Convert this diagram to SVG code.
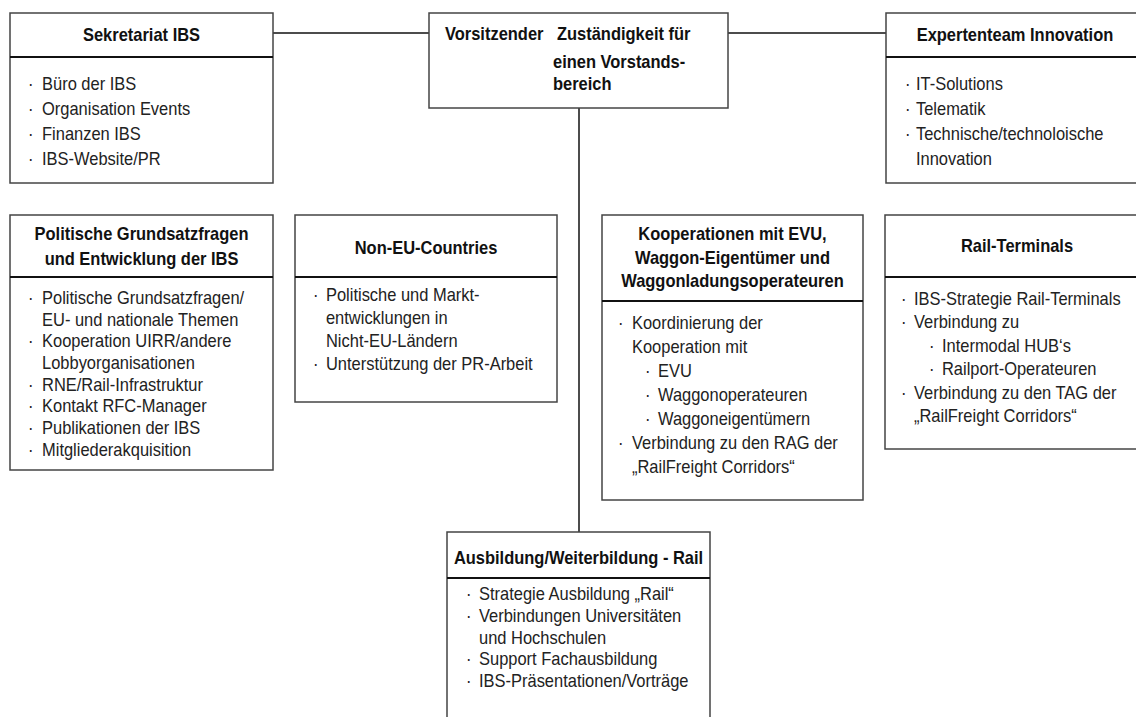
<svg xmlns="http://www.w3.org/2000/svg" width="1136" height="717" viewBox="0 0 1136 717">
<style>
.box{fill:#fff;stroke:#444;stroke-width:1.5}
.div{stroke:#111;stroke-width:2}
.side{stroke:#444;stroke-width:1.5;fill:none}
.con{stroke:#111;stroke-width:1.5;fill:none}
text{font-family:"Liberation Sans",Arial,sans-serif;font-size:18.5px;fill:#222}
.t{font-weight:bold;fill:#111;text-anchor:middle}
.tb{font-weight:bold;fill:#111}
</style>
<rect width="1136" height="717" fill="#fff"/>
<g id="connectors">
<line class="con" x1="273" y1="33" x2="429" y2="33"/>
<line class="con" x1="728" y1="33" x2="886" y2="33"/>
<line class="con" x1="579" y1="108" x2="579" y2="532"/>
</g>
<g id="sekretariat">
<rect class="box" x="10" y="13" width="263" height="170"/>
<line class="div" x1="10" y1="57" x2="273" y2="57"/>
<g transform="translate(10 0) scale(0.89 1)">
<text class="t" x="147.8" y="41">Sekretariat IBS</text>
<text x="20.2" y="90">·</text><text x="36" y="90">Büro der IBS</text>
<text x="20.2" y="115">·</text><text x="36" y="115">Organisation Events</text>
<text x="20.2" y="140">·</text><text x="36" y="140">Finanzen IBS</text>
<text x="20.2" y="165">·</text><text x="36" y="165">IBS-Website/PR</text>
</g>
</g>
<g id="vorsitzender">
<rect class="box" x="429" y="13" width="299" height="95"/>
<g transform="translate(429 0) scale(0.89 1)">
<text class="tb" x="18" y="40">Vorsitzender</text>
<text class="tb" x="143.8" y="40">Zuständigkeit für</text>
<text class="tb" x="139.3" y="68">einen Vorstands-</text>
<text class="tb" x="139.3" y="90">bereich</text>
</g>
</g>
<g id="expertenteam">
<rect class="box" x="886" y="13" width="260" height="170"/>
<line class="div" x1="886" y1="57" x2="1140" y2="57"/>
<g transform="translate(886 0) scale(0.89 1)">
<text class="t" x="144.9" y="41">Expertenteam Innovation</text>
<text x="21.3" y="90">·</text><text x="33.7" y="90">IT-Solutions</text>
<text x="21.3" y="115">·</text><text x="33.7" y="115">Telematik</text>
<text x="21.3" y="140">·</text><text x="33.7" y="140">Technische/technoloische</text>
<text x="33.7" y="165">Innovation</text>
</g>
</g>
<g id="politische">
<rect class="box" x="10" y="215" width="263" height="255"/>
<line class="div" x1="10" y1="277" x2="273" y2="277"/>
<g transform="translate(10 0) scale(0.89 1)">
<text class="t" x="147.8" y="240">Politische Grundsatzfragen</text>
<text class="t" x="147.8" y="265">und Entwicklung der IBS</text>
<text x="20.2" y="304">·</text><text x="36" y="304">Politische Grundsatzfragen/</text>
<text x="36" y="325.7">EU- und nationale Themen</text>
<text x="20.2" y="347.4">·</text><text x="36" y="347.4">Kooperation UIRR/andere</text>
<text x="36" y="369">Lobbyorganisationen</text>
<text x="20.2" y="390.8">·</text><text x="36" y="390.8">RNE/Rail-Infrastruktur</text>
<text x="20.2" y="412.5">·</text><text x="36" y="412.5">Kontakt RFC-Manager</text>
<text x="20.2" y="434">·</text><text x="36" y="434">Publikationen der IBS</text>
<text x="20.2" y="456">·</text><text x="36" y="456">Mitgliederakquisition</text>
</g>
</g>
<g id="noneu">
<rect class="box" x="295" y="215" width="262" height="187"/>
<line class="div" x1="295" y1="277" x2="557" y2="277"/>
<g transform="translate(295 0) scale(0.89 1)">
<text class="t" x="147.2" y="254">Non-EU-Countries</text>
<text x="20.2" y="301">·</text><text x="34.8" y="301">Politische und Markt-</text>
<text x="34.8" y="324">entwicklungen in</text>
<text x="34.8" y="347">Nicht-EU-Ländern</text>
<text x="20.2" y="370">·</text><text x="34.8" y="370">Unterstützung der PR-Arbeit</text>
</g>
</g>
<g id="kooperationen">
<rect class="box" x="602" y="215" width="261" height="285"/>
<line class="div" x1="602" y1="301" x2="863" y2="301"/>
<g transform="translate(602 0) scale(0.89 1)">
<text class="t" x="146.6" y="240">Kooperationen mit EVU,</text>
<text class="t" x="146.6" y="264">Waggon-Eigentümer und</text>
<text class="t" x="146.6" y="287">Waggonladungsoperateuren</text>
<text x="18" y="329">·</text><text x="33.7" y="329">Koordinierung der</text>
<text x="33.7" y="353">Kooperation mit</text>
<text x="48.3" y="377">·</text><text x="62.9" y="377">EVU</text>
<text x="48.3" y="401">·</text><text x="62.9" y="401">Waggonoperateuren</text>
<text x="48.3" y="425">·</text><text x="62.9" y="425">Waggoneigentümern</text>
<text x="18" y="449">·</text><text x="33.7" y="449">Verbindung zu den RAG der</text>
<text x="33.7" y="473">„RailFreight Corridors“</text>
</g>
</g>
<g id="railterminals">
<rect class="box" x="885" y="215" width="260" height="234"/>
<line class="div" x1="885" y1="277" x2="1140" y2="277"/>
<g transform="translate(885 0) scale(0.89 1)">
<text class="t" x="148.3" y="252">Rail-Terminals</text>
<text x="18" y="305">·</text><text x="32.6" y="305">IBS-Strategie Rail-Terminals</text>
<text x="18" y="328.5">·</text><text x="32.6" y="328.5">Verbindung zu</text>
<text x="49.4" y="352">·</text><text x="64" y="352">Intermodal HUB‘s</text>
<text x="49.4" y="375.5">·</text><text x="64" y="375.5">Railport-Operateuren</text>
<text x="18" y="399">·</text><text x="32.6" y="399">Verbindung zu den TAG der</text>
<text x="32.6" y="422.5">„RailFreight Corridors“</text>
</g>
</g>
<g id="ausbildung">
<path class="side" d="M447 720 V532 H710 V720"/>
<line class="div" x1="447" y1="578" x2="710" y2="578"/>
<g transform="translate(447 0) scale(0.89 1)">
<text class="t" x="147.8" y="564">Ausbildung/Weiterbildung - Rail</text>
<text x="21.3" y="600">·</text><text x="36" y="600">Strategie Ausbildung „Rail“</text>
<text x="21.3" y="622">·</text><text x="36" y="622">Verbindungen Universitäten</text>
<text x="36" y="644">und Hochschulen</text>
<text x="21.3" y="665">·</text><text x="36" y="665">Support Fachausbildung</text>
<text x="21.3" y="687">·</text><text x="36" y="687">IBS-Präsentationen/Vorträge</text>
</g>
</g>
</svg>
